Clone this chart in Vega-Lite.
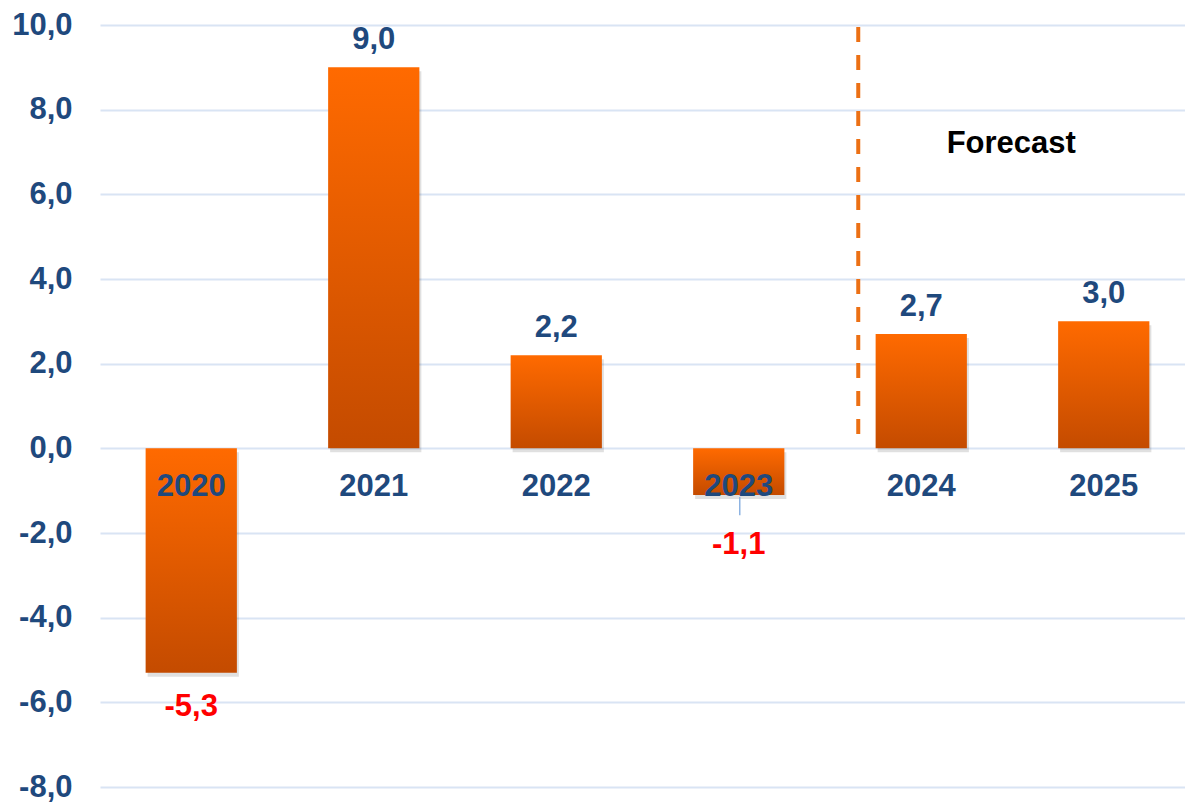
{
  "$schema": "https://vega.github.io/schema/vega-lite/v6.json",
  "width": 1085,
  "height": 762,
  "autosize": {"type": "none"},
  "padding": {"left": 100, "top": 25, "right": 0, "bottom": 15},
  "background": "white",
  "config": {
    "view": {"stroke": null},
    "font": "Liberation Sans"
  },
  "data": {
    "values": [
      {"year": "2020", "value": -5.3},
      {"year": "2021", "value": 9.0},
      {"year": "2022", "value": 2.2},
      {"year": "2023", "value": -1.1},
      {"year": "2024", "value": 2.7},
      {"year": "2025", "value": 3.0}
    ]
  },
  "encoding": {
    "x": {
      "field": "year",
      "type": "nominal",
      "sort": null,
      "scale": {"paddingInner": 0.5, "paddingOuter": 0.25, "range": [0, 1095]},
      "axis": null
    }
  },
  "layer": [
    {
      "mark": {"type": "bar", "color": "#000000", "opacity": 0.12, "xOffset": 2, "yOffset": 4},
      "encoding": {
        "y": {
          "field": "value",
          "type": "quantitative",
          "scale": {"domain": [-8, 10], "nice": false, "zero": true},
          "axis": {
            "values": [-8, -6, -4, -2, 0, 2, 4, 6, 8, 10],
            "labelExpr": "(datum.value < 0 ? '-' : '') + replace(format(abs(datum.value), '.1f'), '.', ',')",
            "labelFont": "Liberation Sans",
            "labelFontSize": 31,
            "labelFontWeight": "bold",
            "labelColor": "#1F497D",
            "labelPadding": 28,
            "domain": false,
            "ticks": false,
            "grid": true,
            "gridColor": "#D9E4F4",
            "gridWidth": 2,
            "title": null
          }
        }
      }
    },
    {
      "mark": {
        "type": "bar",
        "color": {
          "gradient": "linear",
          "x1": 0, "y1": 0, "x2": 0, "y2": 1,
          "stops": [
            {"offset": 0, "color": "#FF6A00"},
            {"offset": 1, "color": "#C44B00"}
          ]
        }
      },
      "encoding": {
        "y": {"field": "value", "type": "quantitative"}
      }
    },
    {
      "mark": {"type": "text", "font": "Liberation Sans", "fontSize": 31, "fontWeight": "bold", "color": "#1F497D", "baseline": "middle", "dy": 39},
      "encoding": {
        "y": {"datum": 0, "type": "quantitative"},
        "text": {"field": "year"}
      }
    },
    {
      "transform": [{"filter": "datum.value > 0"}],
      "mark": {"type": "text", "font": "Liberation Sans", "fontSize": 31, "fontWeight": "bold", "color": "#1F497D", "baseline": "middle", "dy": -27},
      "encoding": {
        "y": {"field": "value", "type": "quantitative"},
        "text": {"field": "label"}
      }
    },
    {
      "transform": [{"filter": "datum.year == '2020'"}],
      "mark": {"type": "text", "font": "Liberation Sans", "fontSize": 31, "fontWeight": "bold", "color": "#FF0000", "baseline": "middle", "dy": 34},
      "encoding": {
        "y": {"field": "value", "type": "quantitative"},
        "text": {"field": "label"}
      }
    },
    {
      "transform": [{"filter": "datum.year == '2023'"}],
      "mark": {"type": "text", "font": "Liberation Sans", "fontSize": 31, "fontWeight": "bold", "color": "#FF0000", "baseline": "middle", "dy": 50},
      "encoding": {
        "y": {"field": "value", "type": "quantitative"},
        "text": {"field": "label"}
      }
    },
    {
      "transform": [{"filter": "datum.year == '2023'"}],
      "mark": {"type": "rule", "color": "#8DB3E2", "strokeWidth": 1.5, "xOffset": 1},
      "encoding": {
        "y": {"datum": -1.15, "type": "quantitative"},
        "y2": {"datum": -1.58}
      }
    },
    {
      "data": {"values": [{"t": "Forecast"}]},
      "mark": {"type": "rule", "color": "#EC7014", "strokeWidth": 4, "strokeDash": [15, 13], "xOffset": -63},
      "encoding": {
        "x": {"datum": "2024"},
        "y": {"datum": 9.95, "type": "quantitative"},
        "y2": {"datum": 0.05}
      }
    },
    {
      "data": {"values": [{"t": "Forecast"}]},
      "mark": {"type": "text", "font": "Liberation Sans", "fontSize": 31, "fontWeight": "bold", "color": "#000000", "baseline": "middle", "xOffset": 90},
      "encoding": {
        "x": {"datum": "2024"},
        "y": {"datum": 7.2, "type": "quantitative"},
        "text": {"field": "t"}
      }
    }
  ],
  "transform": [
    {"calculate": "(datum.value < 0 ? '-' : '') + replace(format(abs(datum.value), '.1f'), '.', ',')", "as": "label"}
  ]
}
